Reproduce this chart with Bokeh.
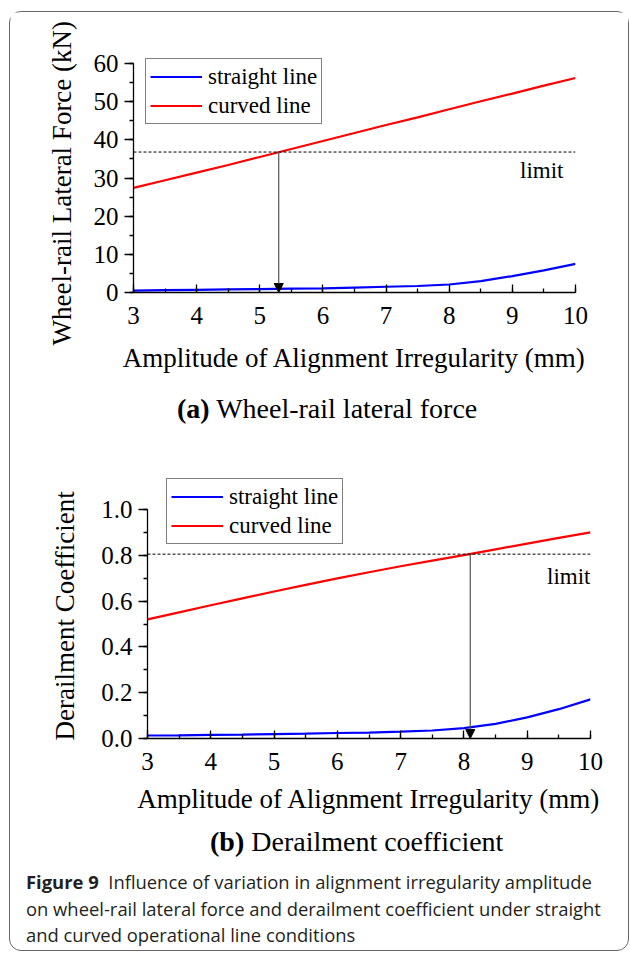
from bokeh.plotting import figure
from bokeh.models import (Span, Arrow, NormalHead, Label, Legend, LegendItem, Title,
                          SingleIntervalTicker, PrintfTickFormatter, Div, Range1d)
from bokeh.layouts import column
from bokeh.embed import file_html
from bokeh.resources import INLINE

# ---------------- data ----------------
amplitude = [3.0, 3.5, 4.0, 4.5, 5.0, 5.5, 6.0, 6.5, 7.0, 7.5, 8.0, 8.5, 9.0, 9.5, 10.0]

force_straight = [0.5, 0.6, 0.7, 0.8, 0.9, 1.0, 1.1, 1.3, 1.5, 1.7, 2.1, 3.0, 4.3, 5.8, 7.5]
force_curved = [27.4, 29.4, 31.4, 33.4, 35.5, 37.6, 39.7, 41.8, 43.9, 45.9, 48.0, 50.1, 52.1, 54.2, 56.2]
force_limit = 36.8
force_cross_x = 5.3

coef_straight = [0.013, 0.014, 0.016, 0.017, 0.019, 0.021, 0.024, 0.026, 0.030, 0.035, 0.045,
                 0.064, 0.092, 0.128, 0.171]
coef_curved = [0.52, 0.551, 0.582, 0.612, 0.642, 0.671, 0.699, 0.726, 0.752, 0.777, 0.801,
               0.826, 0.851, 0.876, 0.90]
coef_limit = 0.805
coef_cross_x = 8.1

series_names = ["straight line", "curved line"]
x_title = "Amplitude of Alignment Irregularity (mm)"

SERIF = "Liberation Serif"
BLUE = "#0000ff"
RED = "#ff0000"
FRAME_H = 229  # pixel height of the 0..axis-max span


def make_panel(width, height, bl, br, bt, bb, extra_top, y_max, y_interval, y_fmt, y_title,
               straight, curved, limit, cross_x, legend_loc, limit_xy, xlab_standoff,
               ytitle_offset, ytitle_standoff):
    y_end = y_max * (1 + extra_top / FRAME_H)
    p = figure(width=width, height=height, output_backend="svg", toolbar_location=None,
               x_range=Range1d(3, 10), y_range=Range1d(0, y_end),
               min_border_left=bl, min_border_right=br, min_border_top=bt,
               min_border_bottom=bb, background_fill_color="white",
               border_fill_color="white", outline_line_color=None)
    p.xgrid.visible = False
    p.ygrid.visible = False

    p.xaxis.ticker = SingleIntervalTicker(interval=1, num_minor_ticks=2)
    p.yaxis.ticker = SingleIntervalTicker(interval=y_interval, num_minor_ticks=2)
    p.yaxis.bounds = (0, y_max)
    if y_fmt:
        p.yaxis.formatter = PrintfTickFormatter(format=y_fmt)

    for ax in (p.xaxis[0], p.yaxis[0]):
        ax.axis_line_color = "black"
        ax.axis_line_width = 1.3
        ax.major_tick_line_color = "black"
        ax.minor_tick_line_color = "black"
        ax.major_tick_line_width = 1.3
        ax.minor_tick_line_width = 1.3
        ax.major_label_text_font = SERIF
        ax.major_label_text_font_size = "25px"
        ax.major_label_text_color = "black"
        ax.axis_label_text_font = SERIF
        ax.axis_label_text_font_size = "27px"
        ax.axis_label_text_font_style = "normal"
        ax.axis_label_text_color = "black"

    xa = p.xaxis[0]
    xa.major_tick_in = 8
    xa.major_tick_out = 0
    xa.minor_tick_in = 4
    xa.minor_tick_out = 0
    xa.major_label_standoff = 14
    xa.axis_label = x_title
    xa.axis_label_standoff = xlab_standoff

    ya = p.yaxis[0]
    ya.major_tick_in = 0
    ya.major_tick_out = 9
    ya.minor_tick_in = 0
    ya.minor_tick_out = 4
    ya.major_label_standoff = 6

    # y-axis title, anchored at its lower end so it sits where the reference has it
    p.add_layout(Title(text=y_title, align="left", vertical_align="bottom",
                       offset=ytitle_offset, standoff=ytitle_standoff,
                       text_font=SERIF, text_font_size="27px", text_font_style="normal",
                       text_color="black"), "left")

    r_s = p.line(amplitude, straight, line_color=BLUE, line_width=2.2)
    r_c = p.line(amplitude, curved, line_color=RED, line_width=2.2)

    p.add_layout(Span(location=limit, dimension="width", line_color="black",
                      line_width=1, line_dash="3 2"))
    p.add_layout(Arrow(x_start=cross_x, y_start=limit, x_end=cross_x, y_end=0,
                       line_color="#555555", line_width=1.2,
                       end=NormalHead(size=9, fill_color="black", line_color="black",
                                      line_width=1)))
    p.add_layout(Label(x=limit_xy[0], y=limit_xy[1], text="limit", text_align="right",
                       text_baseline="middle", text_font=SERIF, text_font_size="23px",
                       text_color="black"))

    legend = Legend(items=[LegendItem(label=series_names[0], renderers=[r_s]),
                           LegendItem(label=series_names[1], renderers=[r_c])],
                    location=legend_loc, orientation="vertical",
                    border_line_color="black", border_line_width=1,
                    background_fill_color="white", background_fill_alpha=1,
                    label_text_font=SERIF, label_text_font_size="23px",
                    label_text_color="black",
                    glyph_width=52, glyph_height=27, label_height=27,
                    label_standoff=6, spacing=2, padding=4, margin=0)
    p.add_layout(legend, "center")
    return p


p1 = make_panel(618, 368, 123, 53, 41, 88, 10, 60, 10, None,
                "Wheel-rail Lateral Force (kN)",
                force_straight, force_curved, force_limit, force_cross_x,
                (12, 168), (9.81, 32), 16, -53, 28)

p2 = make_panel(618, 378, 137, 38, 35, 80, 34, 1.0, 0.2, "%.1f",
                "Derailment Coefficient",
                coef_straight, coef_curved, coef_limit, coef_cross_x,
                (19, 194), (10.0, 0.707), 11, -2, 38)

div_a = Div(text=("<div style=\"font-family:'Liberation Serif'; font-size:28px; color:black;"
                  " padding-left:167px; line-height:58px; white-space:nowrap;\">"
                  "<b>(a)</b> Wheel-rail lateral force</div>"),
            width=618, height=60, margin=0)

div_b = Div(text=("<div style=\"font-family:'Liberation Serif'; font-size:28px; color:black;"
                  " padding-left:200px; line-height:48px; white-space:nowrap;\">"
                  "<b>(b)</b> Derailment coefficient</div>"),
            width=618, height=48, margin=0)

caption = Div(text=("<div style=\"font-family:'Open Sans'; font-size:18.4px; color:#231f20;"
                    " padding-left:16px; padding-top:3px; line-height:26.5px; white-space:nowrap;\">"
                    "<b>Figure 9</b>&nbsp; Influence of variation in alignment irregularity amplitude<br>"
                    "on wheel-rail lateral force and derailment coefficient under straight<br>"
                    "and curved operational line conditions</div>"),
              width=618, height=84, margin=0)

layout = column(column(p1, margin=0), div_a, column(p2, margin=0), div_b, caption,
                margin=(11, 0, 0, 9),
                styles={"border": "1px solid #666666", "border-radius": "12px"})

open("out.html", "w").write(file_html(layout, INLINE))
